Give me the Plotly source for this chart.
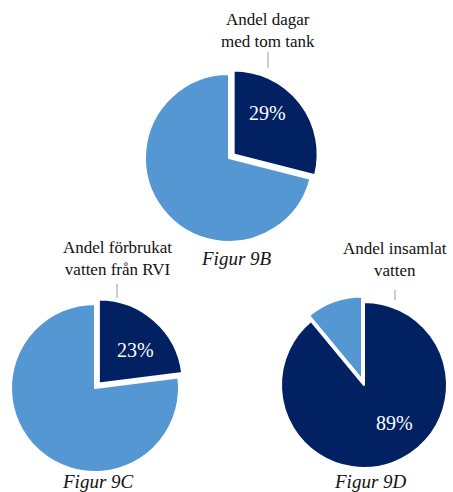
import plotly.graph_objects as go

W, H = 453, 492

# Data
fig_titles = ["Figur 9B", "Figur 9C", "Figur 9D"]
callouts = ["Andel dagar<br>med tom tank", "Andel förbrukat<br>vatten från RVI", "Andel insamlat<br>vatten"]
values_9b = [29, 71]
values_9c = [23, 77]
values_9d = [89, 11]
slice_names = ["Andel", "Övrigt"]

DARK = "#012163"
LIGHT = "#5597D2"
SERIF = "Liberation Serif, Times New Roman, serif"


def dom(cx, cy, r, p):
    half = r * (1 + p)
    x0, x1 = max(0, (cx - half) / W), min(1, (cx + half) / W)
    y0, y1 = max(0, 1 - (cy + half) / H), min(1, 1 - (cy - half) / H)
    return dict(x=[x0, x1], y=[y0, y1])


def px(x, y):
    return x / W, 1 - y / H


fig = go.Figure()
specs = [
    (values_9b, [0.07, 0], dom(229, 158, 84, 0.07), (267, 113)),
    (values_9c, [0.07, 0], dom(95, 388, 84, 0.07), (135, 350)),
    (values_9d, [0, 0.07], dom(364, 385, 83, 0.07), (394, 423)),
]
annotations = []
for vals, pull, d, lab in specs:
    fig.add_trace(go.Pie(
        values=vals, labels=slice_names, textinfo="none", sort=False, direction="clockwise",
        rotation=0, pull=pull, domain=d,
        marker=dict(colors=[DARK, LIGHT], line=dict(color="white", width=2)),
        showlegend=False, hoverinfo="skip",
    ))
    ax, ay = px(*lab)
    annotations.append(dict(text=f"{vals[0]}%", x=ax, y=ay, xref="paper", yref="paper",
                            showarrow=False, xanchor="center", yanchor="middle",
                            font=dict(family=SERIF, size=20, color="white")))

for t, (x, y) in zip(fig_titles, [(236, 258), (98, 481), (370, 481)]):
    ax, ay = px(x, y)
    annotations.append(dict(text="<i>" + t + "</i>", x=ax, y=ay, xref="paper", yref="paper",
                            showarrow=False, xanchor="center", yanchor="middle",
                            font=dict(family=SERIF, size=19, color="#111111")))
for t, (x, y) in zip(callouts, [(268, 31), (117, 258), (395, 259)]):
    ax, ay = px(x, y)
    annotations.append(dict(text=t, x=ax, y=ay, xref="paper", yref="paper",
                            showarrow=False, xanchor="center", yanchor="middle",
                            font=dict(family=SERIF, size=17, color="#111111")))

shapes = []
for (x, y0, y1) in [(268, 52, 68), (117, 284, 298), (395, 290, 300)]:
    a0, b0 = px(x, y0)
    a1, b1 = px(x, y1)
    shapes.append(dict(type="line", xref="paper", yref="paper", x0=a0, y0=b0, x1=a1, y1=b1,
                       line=dict(color="#9a9a9a", width=1)))

fig.update_layout(
    width=W, height=H, margin=dict(l=0, r=0, t=0, b=0),
    paper_bgcolor="white", plot_bgcolor="white",
    annotations=annotations, shapes=shapes,
)

fig.write_html("out.html")
